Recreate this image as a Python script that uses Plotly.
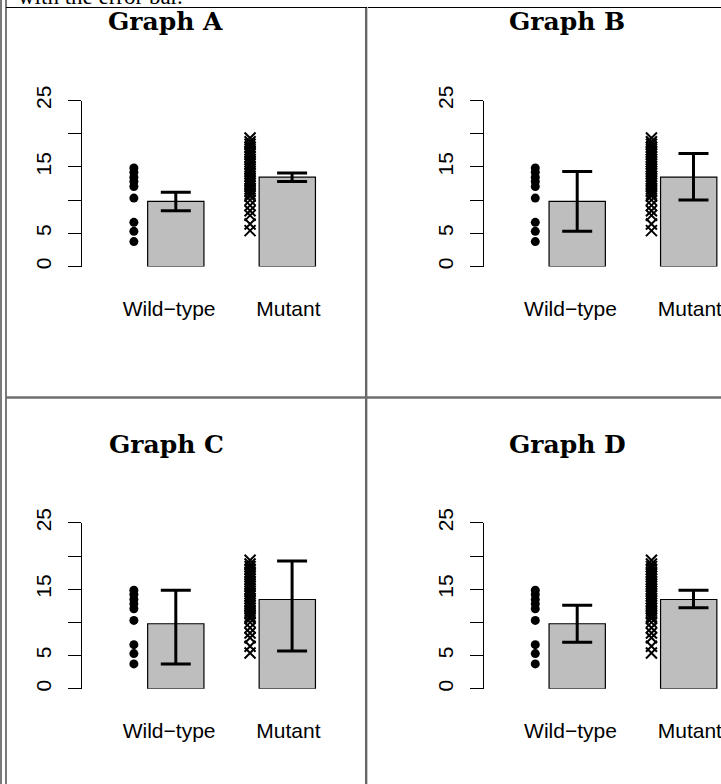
import plotly.graph_objects as go

# ---------------- data ----------------
categories = ["Wild−type", "Mutant"]
graph_titles = ["Graph A", "Graph B", "Graph C", "Graph D"]
bar_means = [9.8, 13.45]
wt_points = [14.85, 14.2, 13.45, 12.8, 12.05, 10.3, 6.65, 5.3, 3.75]
mutant_points = [19.35, 18.8, 18.4, 18.0, 17.6, 17.2, 16.9, 16.5, 16.1, 15.8,
                 15.4, 15.0, 14.7, 14.3, 14.0, 13.6, 13.2, 12.9, 12.5, 12.1,
                 11.7, 11.3, 10.9, 10.6, 10.0, 9.2, 8.4, 7.7, 6.4, 5.4]
err_lower_A = [8.4, 12.8]
err_upper_A = [11.2, 14.1]
err_lower_B = [5.3, 10.0]
err_upper_B = [14.3, 17.0]
err_lower_C = [3.75, 5.7]
err_upper_C = [14.85, 19.25]
err_lower_D = [7.0, 12.2]
err_upper_D = [12.6, 14.85]
y_tick_vals = [0, 5, 10, 15, 20, 25]
y_tick_text = ["0", "5", "", "15", "", "25"]
top_text = "with the error bar."

err_lower = [err_lower_A, err_lower_B, err_lower_C, err_lower_D]
err_upper = [err_upper_A, err_upper_B, err_upper_C, err_upper_D]

# ---------------- layout geometry ----------------
W, H = 721, 784
bar_pos = [1, 2]
label_shift = [-0.06, 0.01]
point_pos = [1 - 0.376, 2 - 0.334]
err_pos = [1.0, 2.043]
PX_PER_UNIT = 111.5

# panel: (axis x px, right px, wild-type bar centre px, y top px, y bottom px)
panels = [
    (82, 362, 175.8, 100.5, 266.5),
    (484, 721, 577.2, 100.5, 266.5),
    (82, 362, 175.8, 522.8, 688.8),
    (484, 721, 577.2, 522.8, 688.8),
]
title_pos = [(165, 21), (567, 21), (166, 445), (567, 445)]

fig = go.Figure()
layout_axes = {}
for i, (x0, x1, wtc, yt, yb) in enumerate(panels):
    n = "" if i == 0 else str(i + 1)
    xa, ya = "x" + n, "y" + n
    r0 = bar_pos[0] + (x0 - wtc) / PX_PER_UNIT
    r1 = bar_pos[0] + (x1 - wtc) / PX_PER_UNIT
    layout_axes["xaxis" + n] = dict(
        domain=[x0 / W, x1 / W], range=[r0, r1], anchor=ya,
        showgrid=False, zeroline=False, showline=False, ticks="",
        tickvals=[b + s for b, s in zip(bar_pos, label_shift)],
        ticktext=categories, ticklabeloverflow="allow",
        tickfont=dict(family="Liberation Sans", size=21, color="black"),
        ticklabelstandoff=27, automargin=False, fixedrange=True,
    )
    layout_axes["yaxis" + n] = dict(
        domain=[1 - yb / H, 1 - yt / H], range=[0, 25], anchor=xa,
        showgrid=False, zeroline=False, showline=True, linecolor="black",
        linewidth=1.3, ticks="outside", ticklen=13, tickwidth=1.3,
        tickcolor="black", tickvals=y_tick_vals, ticktext=y_tick_text,
        tickangle=-90, ticklabelstandoff=8,
        tickfont=dict(family="Liberation Sans", size=21, color="black"),
        automargin=False, fixedrange=True,
    )

    fig.add_trace(go.Bar(
        x=bar_pos, y=bar_means, width=0.505, xaxis=xa, yaxis=ya,
        marker=dict(color="#BEBEBE", line=dict(color="black", width=1.2)),
        hoverinfo="skip",
    ))
    fig.add_trace(go.Scatter(
        x=[point_pos[0]] * len(wt_points), y=wt_points, mode="markers",
        xaxis=xa, yaxis=ya,
        marker=dict(symbol="circle", size=9, color="black"),
        hoverinfo="skip",
    ))
    fig.add_trace(go.Scatter(
        x=[point_pos[1]] * len(mutant_points), y=mutant_points, mode="markers",
        xaxis=xa, yaxis=ya,
        marker=dict(symbol="x-thin", size=11, color="black",
                    line=dict(color="black", width=2)),
        hoverinfo="skip",
    ))
    lo, up = err_lower[i], err_upper[i]
    fig.add_trace(go.Scatter(
        x=err_pos, y=bar_means, mode="markers", xaxis=xa, yaxis=ya,
        marker=dict(size=1, color="black"),
        error_y=dict(type="data", symmetric=False,
                     array=[u - m for u, m in zip(up, bar_means)],
                     arrayminus=[m - l for m, l in zip(bar_means, lo)],
                     color="black", thickness=3, width=15),
        hoverinfo="skip",
    ))

annotations = []
for (tx, ty), t in zip(title_pos, graph_titles):
    annotations.append(dict(
        text="<b>%s</b>" % t, x=tx / W, y=1 - ty / H, xref="paper", yref="paper",
        xanchor="center", yanchor="middle", showarrow=False,
        font=dict(family="DejaVu Serif", size=25, color="black"),
    ))
annotations.append(dict(
    text=top_text, x=16 / W, y=1 + 4 / H, xref="paper", yref="paper",
    xanchor="left", yanchor="middle", showarrow=False,
    font=dict(family="Liberation Serif", size=23, color="black"),
))

def hline(y, x0, x1, color, w):
    return dict(type="line", xref="paper", yref="paper", x0=x0 / W, x1=x1 / W,
                y0=1 - y / H, y1=1 - y / H, line=dict(color=color, width=w))

def vline(x, y0, y1, color, w):
    return dict(type="line", xref="paper", yref="paper", x0=x / W, x1=x / W,
                y0=1 - y0 / H, y1=1 - y1 / H, line=dict(color=color, width=w))

shapes = [
    vline(1, 0, H, "#7a7a7a", 2),
    vline(6, 0, H, "#7a7a7a", 2),
    hline(7.5, 6, W, "black", 1.2),
    vline(366, 7, H, "black", 1.2),
    vline(367.5, 7, H, "#c8c8c8", 1),
    hline(397.5, 6, W, "#6e6e6e", 2.5),
]

fig.update_layout(
    width=W, height=H, margin=dict(l=0, r=0, t=0, b=0, autoexpand=False),
    paper_bgcolor="white", plot_bgcolor="white", showlegend=False,
    barmode="overlay", annotations=annotations, shapes=shapes,
    **layout_axes,
)
fig.write_html("out.html")
